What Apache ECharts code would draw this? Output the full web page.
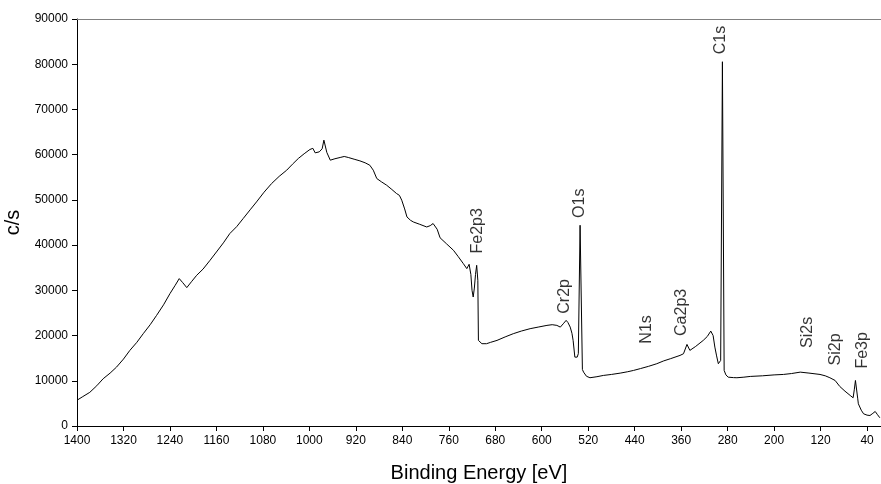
<!DOCTYPE html>
<html>
<head>
<meta charset="utf-8">
<script src="https://cdn.jsdelivr.net/npm/echarts@6/dist/echarts.min.js"></script>
<style>html,body{margin:0;padding:0;background:#fff;}#c{width:881px;height:484px;}</style>
</head>
<body>
<div id="c"></div>
<script>
// Binding energy (eV) and counts per second
const energy = [1400,1390,1378,1366,1355,1343,1332,1320,1309,1297,1286,1274,1263,1251,1240,1231,1224,1218,1211,1203,1194,1183,1171,1160,1148,1137,1125,1114,1102,1091,1078,1065,1052,1039,1029,1019,1009,999,994,990,983,978,975,970,964,956,947,940,933,923,913,904,896,890,884,876,867,858,850,845,841,836,832,826,821,810,798,792,787,784,780,775,764,752,744,735,729,725,722,720,718,716,714,712,710,709,706,703,701,695,688,677,663,649,635,620,605,591,582,574,568,563,558,555,551,548,546,543,539,537,534,530,528,523,517,505,494,480,465,452,442,430,416,402,390,378,362,356,350,345,335,322,315,309,305,302,299,296,294,292,289,286,283,279,270,264,252,241,220,200,184,170,155,140,121,112,104,95,87,78,69,64,62,60,58,56,55,50,46,40,35,30,26,22,18];
const counts = [5700,6500,7440,8900,10450,11700,13020,14800,16720,18500,20410,22400,24460,26800,29270,31110,32590,31700,30600,31900,33320,34700,36640,38480,40500,42550,44100,45870,47800,49550,51700,53620,55200,56570,57900,59160,60200,61150,61400,60400,60620,61300,63210,60500,58780,59100,59380,59600,59380,59000,58630,58200,57670,56570,54730,54000,53250,52300,51410,51000,49930,48000,46230,45500,45120,44600,44010,44300,44770,44770,43500,41620,40300,38860,37500,35910,34800,35760,33500,30000,28520,30500,33500,35530,32210,18930,18500,18200,17820,18200,18500,18930,19700,20410,21000,21520,21900,22250,22400,22250,21870,22600,23360,22900,21870,20500,18930,15230,15230,16000,44390,12500,11910,11000,10670,10900,11180,11400,11690,12000,12290,12700,13200,13770,14400,14900,15610,15980,18040,16720,17600,18930,19800,20990,20000,17450,15500,13770,13620,14500,80550,12300,11300,10800,10700,10670,10800,10960,11100,11300,11400,11600,11910,11700,11400,11100,10670,10070,8750,7700,6750,6240,8000,10070,10000,6000,4910,3500,2700,2400,2320,2800,3210,2500,1820];

// Peak annotations (label text, energy, counts of label centre)
const peakNames = ["C1s","O1s","Fe2p3","Cr2p","N1s","Ca2p3","Si2s","Si2p","Fe3p"];
const peakE     = [292, 534, 711, 560, 420, 360, 143, 95, 47];
const peakC     = [85350, 49260, 43170, 28670, 21360, 25130, 20700, 16940, 16720];

// Tick labels
const xTicks = [1400,1320,1240,1160,1080,1000,920,840,760,680,600,520,440,360,280,200,120,40];
const yMin = 0, yMax = 90000, yStep = 10000;

const FONT = "'Liberation Sans', Arial, sans-serif";
const chart = echarts.init(document.getElementById('c'), null, {renderer: 'canvas'});
const lineData = energy.map((e, i) => [e, counts[i]]);
const peakData = peakNames.map((n, i) => ({name: n, value: [peakE[i], peakC[i]]}));

chart.setOption({
  animation: false,
  backgroundColor: '#ffffff',
  grid: {left: 77, right: 0, top: 19, bottom: 58, containLabel: false, outerBoundsMode: 'none'},
  xAxis: [{
    type: 'value', inverse: true, min: 16, max: 1400,
    name: 'Binding Energy [eV]', nameLocation: 'middle', nameGap: 37,
    nameTextStyle: {fontFamily: FONT, fontSize: 20, color: '#000'},
    axisLine: {show: true, lineStyle: {color: '#000', width: 1}},
    axisTick: {show: true, length: 5, lineStyle: {color: '#000'}, customValues: xTicks},
    axisLabel: {fontFamily: FONT, fontSize: 12, color: '#000', margin: 9, customValues: xTicks,
      formatter: v => String(v)},
    splitLine: {show: false}
  }, {
    type: 'value', inverse: true, min: 16, max: 1400, position: 'top',
    axisLine: {show: true, lineStyle: {color: '#808080', width: 1}},
    axisTick: {show: false}, axisLabel: {show: false}, splitLine: {show: false}
  }],
  yAxis: {
    type: 'value', min: yMin, max: yMax, interval: yStep,
    name: 'c/s', nameLocation: 'middle', nameGap: 47, nameRotate: 90,
    nameTextStyle: {fontFamily: FONT, fontSize: 20, color: '#000'},
    axisLine: {show: true, lineStyle: {color: '#000', width: 1}},
    axisTick: {show: true, length: 5, lineStyle: {color: '#000'}},
    axisLabel: {fontFamily: FONT, fontSize: 12, color: '#000', margin: 9, formatter: v => String(v)},
    splitLine: {show: false}
  },
  series: [{
    type: 'line', data: lineData, showSymbol: false, symbol: 'none',
    lineStyle: {color: '#000', width: 1}, silent: true
  }, {
    type: 'scatter', data: peakData, symbolSize: 0, silent: true,
    label: {show: true, position: 'inside', rotate: 90, formatter: p => p.name,
      fontFamily: FONT, fontSize: 16, color: '#000', align: 'center', verticalAlign: 'middle'}
  }]
});
</script>
</body>
</html>
